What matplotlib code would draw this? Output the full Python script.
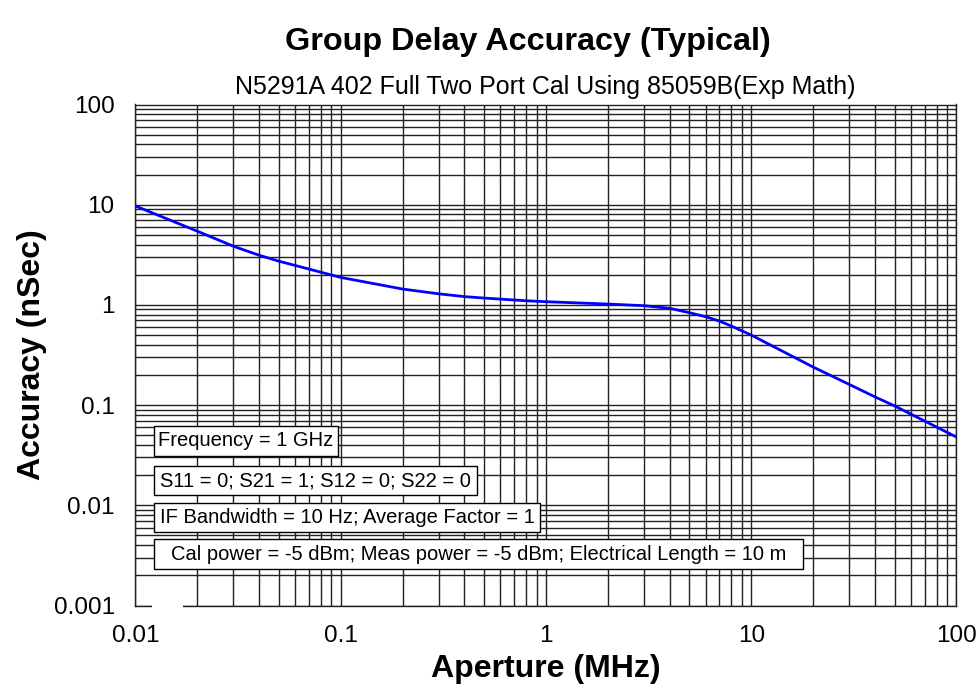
import matplotlib
matplotlib.use("Agg")
import matplotlib.pyplot as plt
from matplotlib.patches import Rectangle

plt.rcParams['font.family'] = ['Liberation Sans', 'DejaVu Sans']

aperture_mhz = [0.01, 0.02, 0.03, 0.04, 0.05, 0.08, 0.1, 0.2, 0.3, 0.4, 0.5, 0.8, 1.0,
                2.0, 3.0, 4.0, 5.0, 6.0, 7.0, 8.0, 10.0, 20.0, 30.0, 40.0, 50.0, 100.0]
accuracy_ns = [9.7, 5.44, 3.85, 3.13, 2.73, 2.12, 1.88, 1.44, 1.29, 1.21, 1.17, 1.10, 1.076,
               1.02, 0.982, 0.925, 0.836, 0.762, 0.69, 0.615, 0.50, 0.24, 0.161, 0.121, 0.098, 0.048]

x_ticks = [0.01, 0.1, 1, 10, 100]
x_ticklabels = ["0.01", "0.1", "1", "10", "100"]
y_ticks = [0.001, 0.01, 0.1, 1, 10, 100]
y_ticklabels = ["0.001", "0.01", "0.1", "1", "10", "100"]

title = "Group Delay Accuracy (Typical)"
subtitle = "N5291A 402 Full Two Port Cal Using 85059B(Exp Math)"
notes = ["Frequency = 1 GHz",
         "S11 = 0; S21 = 1; S12 = 0; S22 = 0",
         "IF Bandwidth = 10 Hz; Average Factor = 1",
         "Cal power = -5 dBm; Meas power = -5 dBm; Electrical Length = 10 m"]

W, H = 978, 689
fig = plt.figure(figsize=(W / 100, H / 100), dpi=100)
L, R, T, B = 135.5, 956.5, 104.5, 605.5
ax = fig.add_axes([L / W, 1 - B / H, (R - L) / W, (B - T) / H])

ax.set_xscale('log')
ax.set_yscale('log')
ax.set_xlim(0.01, 100)
ax.set_ylim(0.001, 100)

ax.grid(True, which='both', color='#222222', linewidth=1.0)
ax.set_axisbelow(True)

ax.plot(aperture_mhz, accuracy_ns, color='#0000FF', linewidth=2.0, zorder=5,
        solid_joinstyle='round')

ax.set_xticks(x_ticks)
ax.set_xticklabels(x_ticklabels)
ax.set_yticks(y_ticks)
ax.set_yticklabels(y_ticklabels)
ax.tick_params(axis='both', which='both', length=0, labelsize=17.5)
ax.tick_params(axis='y', pad=15)
ax.tick_params(axis='x', pad=14)

for s in ax.spines.values():
    s.set_color('#222222')
    s.set_linewidth(1.0)

ax.set_xlabel("Aperture (MHz)", fontsize=23, fontweight='bold', labelpad=5)
ax.set_ylabel("Accuracy (nSec)", fontsize=23, fontweight='bold', labelpad=5)

fig.text(528 / W, 1 - 42 / H, title, fontsize=23.3, fontweight='bold', ha='center', va='center')
fig.text(545 / W, 1 - 87 / H, subtitle, fontsize=18, ha='center', va='center')

# annotation boxes (pixel geometry)
box_left = 154.3
box_rights = [337.7, 476.7, 540.0, 802.7]
box_tops = [425.7, 466.0, 502.7, 539.0]
box_bottoms = [456.0, 495.3, 532.3, 569.3]
for txt, r, t, b in zip(notes, box_rights, box_tops, box_bottoms):
    fig.patches.append(Rectangle((box_left / W, 1 - b / H), (r - box_left) / W, (b - t) / H,
                                 transform=fig.transFigure, facecolor='white',
                                 edgecolor='black', linewidth=1.0, zorder=10))
    fig.text((box_left + r) / 2 / W, 1 - ((t + b) / 2) / H, txt, fontsize=14.5,
             ha='center', va='center', zorder=11)

# small gap in bottom axis line
ax.add_patch(Rectangle(((152 - L) / (R - L), -0.004), (183 - 152) / (R - L), 0.008,
                       transform=ax.transAxes, facecolor='white', edgecolor='none',
                       clip_on=False, zorder=20))

fig.savefig("out.png", dpi=100)
